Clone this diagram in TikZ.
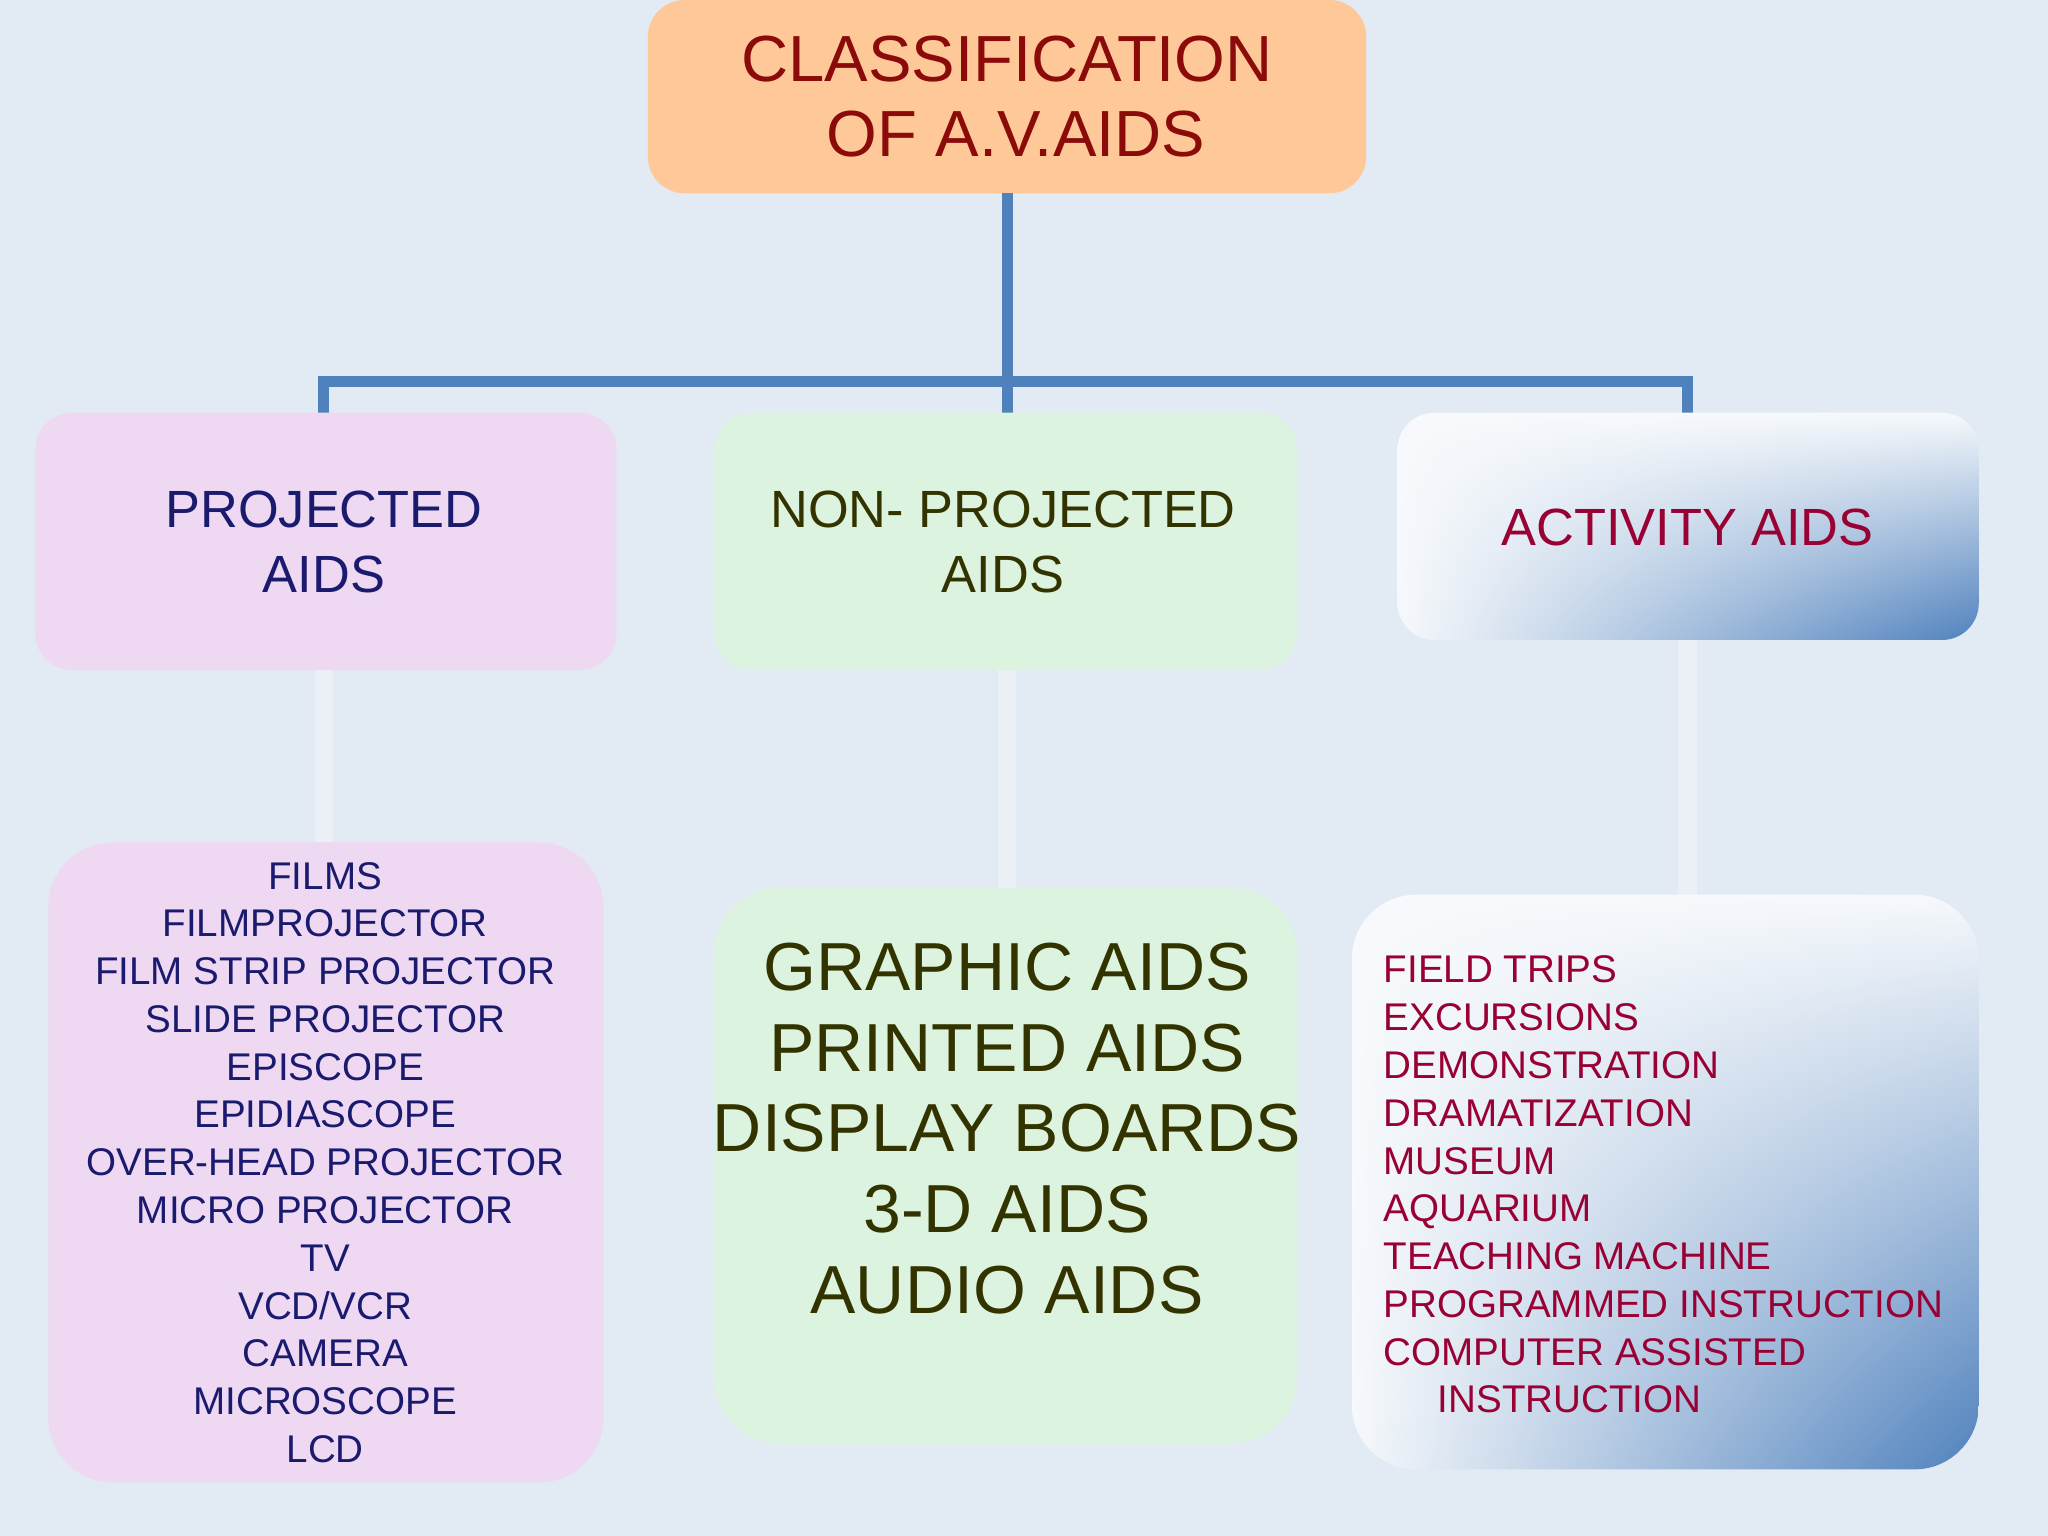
\documentclass[tikz,border=0pt]{standalone}
\usepackage{fontspec}
\setmainfont{Liberation Sans}
\usetikzlibrary{shadings}
\definecolor{bg}{HTML}{E2EAF3}
\definecolor{orng}{HTML}{FFC898}
\definecolor{pnk}{HTML}{EFD9F2}
\definecolor{grn}{HTML}{DCF3DF}
\definecolor{lnk}{HTML}{4F81BD}
\definecolor{dred}{HTML}{8B0A0A}
\definecolor{navy}{HTML}{1A1A6E}
\definecolor{olive}{HTML}{333300}
\definecolor{mag}{HTML}{990033}
\tikzset{
 box/.style={rounded corners=8pt,draw=none},
 faint/.style={line width=4pt,white,opacity=0.3},
 link/.style={line width=2.4pt,lnk},
}
\begin{document}
\begin{tikzpicture}[x=0.01cm,y=-0.01cm]
\fill[bg] (0,0) rectangle (1568,1176);
\useasboundingbox (0,0) rectangle (1568,1176);
% faint connectors
\coordinate (p1) at (248,513); \coordinate (p2) at (248,645);
\coordinate (n1) at (771,513); \coordinate (n2) at (771,680);
\coordinate (a1) at (1292,490); \coordinate (a2) at (1292,685);
\draw[faint] (p1)--(p2); \draw[faint] (n1)--(n2); \draw[faint] (a1)--(a2);
% top
\fill[orng,box] (496,0) rectangle (1046,148);
\node[text=dred,font=\fontsize{14.2}{16.5}\selectfont,align=center] (t) at (771,74) {CLASSIFICATION\\ \ OF A.V.AIDS};
\coordinate (tb) at (771,148); \coordinate (j) at (771,292);
\coordinate (jl) at (248,292); \coordinate (jr) at (1292,292);
\draw[link] (tb)--(j);
\draw[link] (jl|-0,316)--(jl)--(jr)--(jr|-0,316);
\draw[link] (j)--(771,316);
% second level
\fill[pnk,box] (27,316) rectangle (472,513);
\node[text=navy,font=\fontsize{11.4}{14}\selectfont,align=center] (pr) at (248,415) {PROJECTED\\ AIDS};
\fill[grn,box] (547,316) rectangle (993,513);
\node[text=olive,font=\fontsize{11.4}{14}\selectfont,align=center] (np) at (768,415) {NON- PROJECTED\\ AIDS};
\shade[box,upper left=white!75!bg,lower left=white!70!bg,upper right=white!70!bg,lower right=lnk] (1070,316) rectangle (1515,490);
\node[text=mag,font=\fontsize{11.4}{14}\selectfont] (ac) at (1292,404) {ACTIVITY AIDS};
% third level
\fill[pnk,rounded corners=14pt] (37,645) rectangle (462,1135);
\node[text=navy,font=\fontsize{8.4}{10.4}\selectfont,align=center] (pl) at (249,890) {FILMS\\ FILMPROJECTOR\\ FILM STRIP PROJECTOR\\ SLIDE PROJECTOR\\ EPISCOPE\\ EPIDIASCOPE\\ OVER-HEAD PROJECTOR\\ MICRO PROJECTOR\\ TV\\ VCD/VCR\\ CAMERA\\ MICROSCOPE\\ LCD};
\fill[grn,rounded corners=14pt] (547,680) rectangle (993,1105);
\node[text=olive,font=\fontsize{14.8}{17.6}\selectfont,align=center] (nl) at (771,864) {GRAPHIC AIDS\\ PRINTED AIDS\\ DISPLAY BOARDS\\ 3-D AIDS\\ AUDIO AIDS};
\shade[rounded corners=14pt,upper left=white!75!bg,lower left=white!70!bg,upper right=white!70!bg,lower right=lnk] (1035,685) rectangle (1515,1125);
\node[text=mag,font=\fontsize{8.4}{10.4}\selectfont,align=left,anchor=west] (al) at (1047,907) {FIELD TRIPS\\ EXCURSIONS\\ DEMONSTRATION\\ DRAMATIZATION\\ MUSEUM\\ AQUARIUM\\ TEACHING MACHINE\\ PROGRAMMED INSTRUCTION\\ COMPUTER ASSISTED\\ \hspace*{1.4em}INSTRUCTION};
\end{tikzpicture}
\end{document}
